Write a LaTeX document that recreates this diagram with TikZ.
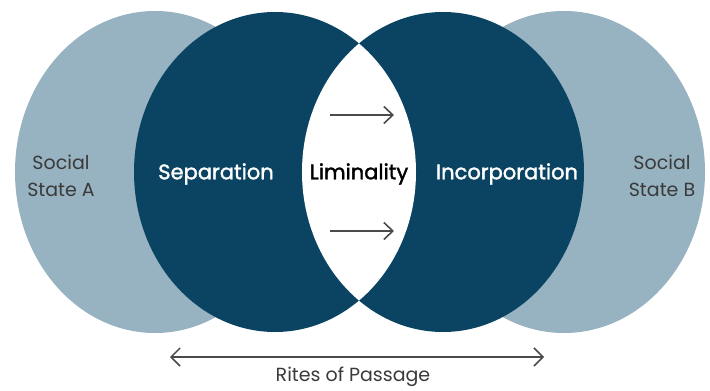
\documentclass[tikz,border=0pt]{standalone}
\usepackage{fontspec}
\setmainfont{Poppins}
\newfontfamily\mediumface[FakeBold=1.6]{Poppins}
\usetikzlibrary{arrows.meta}
\definecolor{deepblue}{HTML}{0A4462}
\definecolor{paleblue}{HTML}{97B2C0}
\definecolor{labelgray}{HTML}{3A3A3A}
\definecolor{arrowgray}{HTML}{4A4A4A}
\tikzset{
  statelabel/.style={text=labelgray, font=\fontsize{19}{27}\selectfont, align=center, inner sep=0pt},
  phaselabel/.style={text=white, font=\mediumface\fontsize{21}{24}\selectfont, inner sep=0pt},
  midlabel/.style={text=black, font=\mediumface\fontsize{21}{24}\selectfont, inner sep=0pt},
  flow/.style={draw=arrowgray, line width=1.6pt, -{Straight Barb[length=9pt,width=17pt,line width=1.6pt]}},
  span/.style={draw=arrowgray, line width=1.5pt, {Straight Barb[length=9pt,width=18pt,line width=1.5pt]}-{Straight Barb[length=9pt,width=18pt,line width=1.5pt]}},
}
\begin{document}
\begin{tikzpicture}[x=1pt,y=-1pt]
  \useasboundingbox (0,0) rectangle (710,391);
  % outer social states
  \fill[paleblue] (155,172) ellipse [x radius=140, y radius=161];
  \fill[paleblue] (564,172) ellipse [x radius=141, y radius=161];
  % separation and incorporation phases
  \fill[deepblue] (275,172) ellipse [x radius=141, y radius=160];
  \fill[deepblue] (443,172) ellipse [x radius=141, y radius=160];
  % liminal overlap
  \begin{scope}
    \clip (275,172) ellipse [x radius=141, y radius=160];
    \fill[white] (443,172) ellipse [x radius=141, y radius=160];
  \end{scope}

  \node[statelabel] (stateA) at (61,176) {Social\\State A};
  \node[statelabel] (stateB) at (662,176) {Social\\State B};
  \node[phaselabel] (sep) at (216,174) {Separation};
  \node[midlabel] (lim) at (359,174) {Liminality};
  \node[phaselabel] (inc) at (507,174) {Incorporation};

  \coordinate (fa1) at (330,115);
  \coordinate (fb1) at (394,115);
  \coordinate (fa2) at (330,231);
  \coordinate (fb2) at (394,231);
  \draw[flow] (fa1) -- (fb1);
  \draw[flow] (fa2) -- (fb2);

  \coordinate (rl) at (170,357);
  \coordinate (rr) at (544,357);
  \draw[span] (rl) -- (rr);
  \node[text=labelgray, font=\fontsize{19}{22}\selectfont, inner sep=0pt] (rites) at (353,377) {Rites of Passage};
\end{tikzpicture}
\end{document}
